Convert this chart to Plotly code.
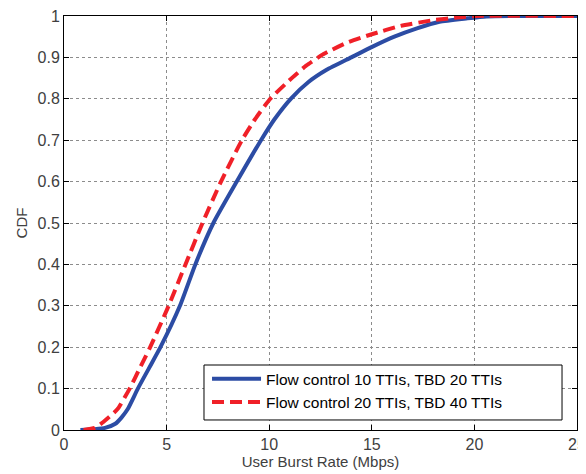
import plotly.graph_objects as go

# Data
blue_x = [0.8, 1.5, 2.0, 2.5, 2.8, 3.1, 3.6, 4.15, 4.7, 5.65, 6.4, 7.28, 8.42, 9.6,
          10.25, 11.05, 11.9, 12.8, 14.0, 15.04, 16.1, 17.2, 18.3, 19.6, 20.6, 25]
blue_y = [0, 0.002, 0.005, 0.015, 0.03, 0.05, 0.1, 0.15, 0.2, 0.3, 0.4, 0.5, 0.6, 0.7,
          0.75, 0.8, 0.84, 0.87, 0.9, 0.926, 0.95, 0.97, 0.986, 0.994, 0.999, 1]
red_x = [0.95, 1.5, 1.85, 2.6, 3.2, 3.7, 4.2, 5.1, 5.92, 6.75, 7.65, 8.67, 9.3, 10.05,
         11.1, 11.8, 12.65, 13.8, 15.0, 16.4, 18.0, 19.3, 20.0, 25]
red_y = [0, 0.005, 0.017, 0.05, 0.1, 0.15, 0.2, 0.3, 0.4, 0.5, 0.6, 0.7, 0.75, 0.8,
         0.85, 0.88, 0.908, 0.936, 0.956, 0.976, 0.99, 0.997, 1.0, 1]

series_names = ["Flow control 10 TTIs, TBD 20 TTIs", "Flow control 20 TTIs, TBD 40 TTIs"]
x_ticks = [0, 5, 10, 15, 20, 25]
y_ticks = [0, 0.1, 0.2, 0.3, 0.4, 0.5, 0.6, 0.7, 0.8, 0.9, 1]
y_tick_labels = ["0", "0.1", "0.2", "0.3", "0.4", "0.5", "0.6", "0.7", "0.8", "0.9", "1"]

FONT = "Liberation Sans, Arial"
TXT = "#404040"

fig = go.Figure()
fig.add_trace(go.Scatter(x=blue_x, y=blue_y, mode="lines", name=series_names[0],
                         line=dict(color="rgb(44,76,164)", width=4, shape="spline", smoothing=0.5)))
fig.add_trace(go.Scatter(x=red_x, y=red_y, mode="lines", name=series_names[1],
                         line=dict(color="rgb(240,32,40)", width=4, dash="12px,6px",
                                   shape="spline", smoothing=0.5)))

axis_common = dict(
    showline=True, linecolor="black", linewidth=1, mirror="ticks",
    ticks="inside", ticklen=5, tickcolor="black",
    showgrid=True, gridcolor="rgb(140,140,140)", gridwidth=1, griddash="dot",
    zeroline=False, automargin=False, ticklabeloverflow="allow",
    tickfont=dict(family=FONT, size=16, color=TXT),
)

fig.update_xaxes(range=[0, 25], tickvals=x_ticks,
                 title=dict(text="User Burst Rate (Mbps)", standoff=2,
                            font=dict(family=FONT, size=15, color=TXT)),
                 **axis_common)
fig.update_yaxes(range=[0, 1], tickvals=y_ticks, ticktext=y_tick_labels,
                 title=dict(text="CDF", standoff=6,
                            font=dict(family=FONT, size=15, color=TXT)),
                 **axis_common)

# page body has an 8px default margin, so the figure is 8px smaller
fig.update_layout(
    width=578, height=466,
    margin=dict(l=56, r=9, t=8, b=44),
    paper_bgcolor="white", plot_bgcolor="white",
    showlegend=True,
    legend=dict(x=0.2788, y=0.026, xanchor="left", yanchor="bottom",
                bgcolor="rgba(0,0,0,0)", borderwidth=0,
                font=dict(family=FONT, size=15.5, color="black"),
                itemwidth=49, tracegroupgap=0),
    shapes=[dict(type="rect", xref="paper", yref="paper",
                 x0=0.2729, x1=0.9708, y0=0.0242, y1=0.157,
                 line=dict(color="black", width=1), fillcolor="white", layer="above")],
)

fig.write_html("out.html")
